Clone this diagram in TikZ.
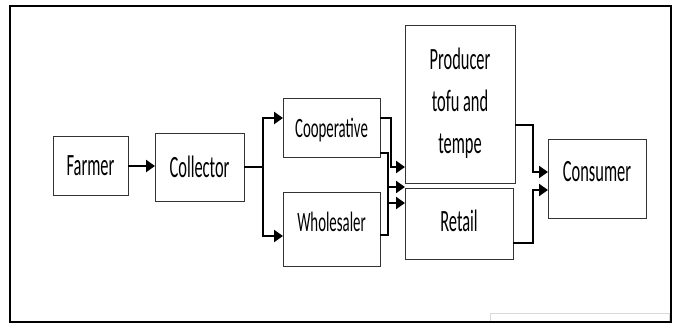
\documentclass[tikz,border=0pt]{standalone}
\usepackage{fontspec}
\setmainfont{Carlito}[FakeStretch=0.53]
\usetikzlibrary{arrows.meta}
\begin{document}
\begin{tikzpicture}[x=1pt,y=-1pt,
  box/.style={draw=black!80,line width=1pt,inner sep=0pt,fill=white},
  lbl/.style={inner sep=0pt,font=\fontsize{31}{42}\selectfont,align=center},
  lbls/.style={inner sep=0pt,font=\fontsize{28}{34}\selectfont,align=center},
  conn/.style={line width=2.4pt},
  arr/.style={conn,-{Triangle[length=9pt,width=12pt]}}]
\useasboundingbox (0,0) rectangle (675,323);
% partial grey box at bottom right
\draw[black!15,line width=1pt] (490,323) -- (490,313) -- (669,313) -- (669,323);
% outer frame
\draw[line width=2pt] (10,6) rectangle (671,321.8);
% boxes
\node[box,minimum width=75pt,minimum height=59pt] (farmer) at (90.5,166.5) {};
\node[box,minimum width=89pt,minimum height=68pt] (collector) at (199.5,168) {};
\node[box,minimum width=97pt,minimum height=59pt] (coop) at (331.5,128.5) {};
\node[box,minimum width=97pt,minimum height=74pt] (whole) at (331.5,230) {};
\node[box,minimum width=110pt,minimum height=158pt] (producer) at (460,105) {};
\node[box,minimum width=108pt,minimum height=71pt] (retail) at (459,224.5) {};
\node[box,minimum width=98pt,minimum height=79pt] (consumer) at (597,179.5) {};
% labels
\node[lbl] (tfarmer) at (90.5,166) {Farmer};
\node[lbl] (tcollector) at (199.5,167) {Collector};
\node[lbls] (tcoop) at (331.5,130) {Cooperative};
\node[lbls] (twhole) at (331.5,222) {Wholesaler};
\node[lbl] (tproducer) at (460,103) {Producer\\tofu and\\tempe};
\node[lbl] (tretail) at (459,221) {Retail};
\node[lbl] (tconsumer) at (597,172) {Consumer};
% coordinates
\coordinate (c1) at (128,166);
\coordinate (c2) at (155,166);
\coordinate (j0) at (244,167);
\coordinate (j1) at (263,167);
\coordinate (jc) at (283,118);
\coordinate (jw) at (283,236);
\coordinate (co1) at (380,118);
\coordinate (co1b) at (391,118);
\coordinate (pin1) at (405,167);
\coordinate (co2) at (380,153);
\coordinate (co2b) at (388,153);
\coordinate (rin1) at (405,203);
\coordinate (wo) at (380,235);
\coordinate (wob) at (388,235);
\coordinate (min) at (405,187);
\coordinate (po) at (515,125);
\coordinate (pob) at (533,125);
\coordinate (cin1) at (548,172);
\coordinate (ro) at (513,243);
\coordinate (rob) at (533,243);
\coordinate (cin2) at (548,190);
% connectors
\draw[arr] (c1) -- (c2);
\draw[conn] (j0) -- (j1);
\draw[arr] (j1) |- (jc);
\draw[arr] (j1) |- (jw);
\draw[arr] (co1) -- (co1b) |- (pin1);
\draw[arr] (co2) -- (co2b) |- (rin1);
\draw[arr] (wo) -- (wob) |- (min);
\draw[arr] (po) -- (pob) |- (cin1);
\draw[arr] (ro) -- (rob) |- (cin2);
\end{tikzpicture}
\end{document}
